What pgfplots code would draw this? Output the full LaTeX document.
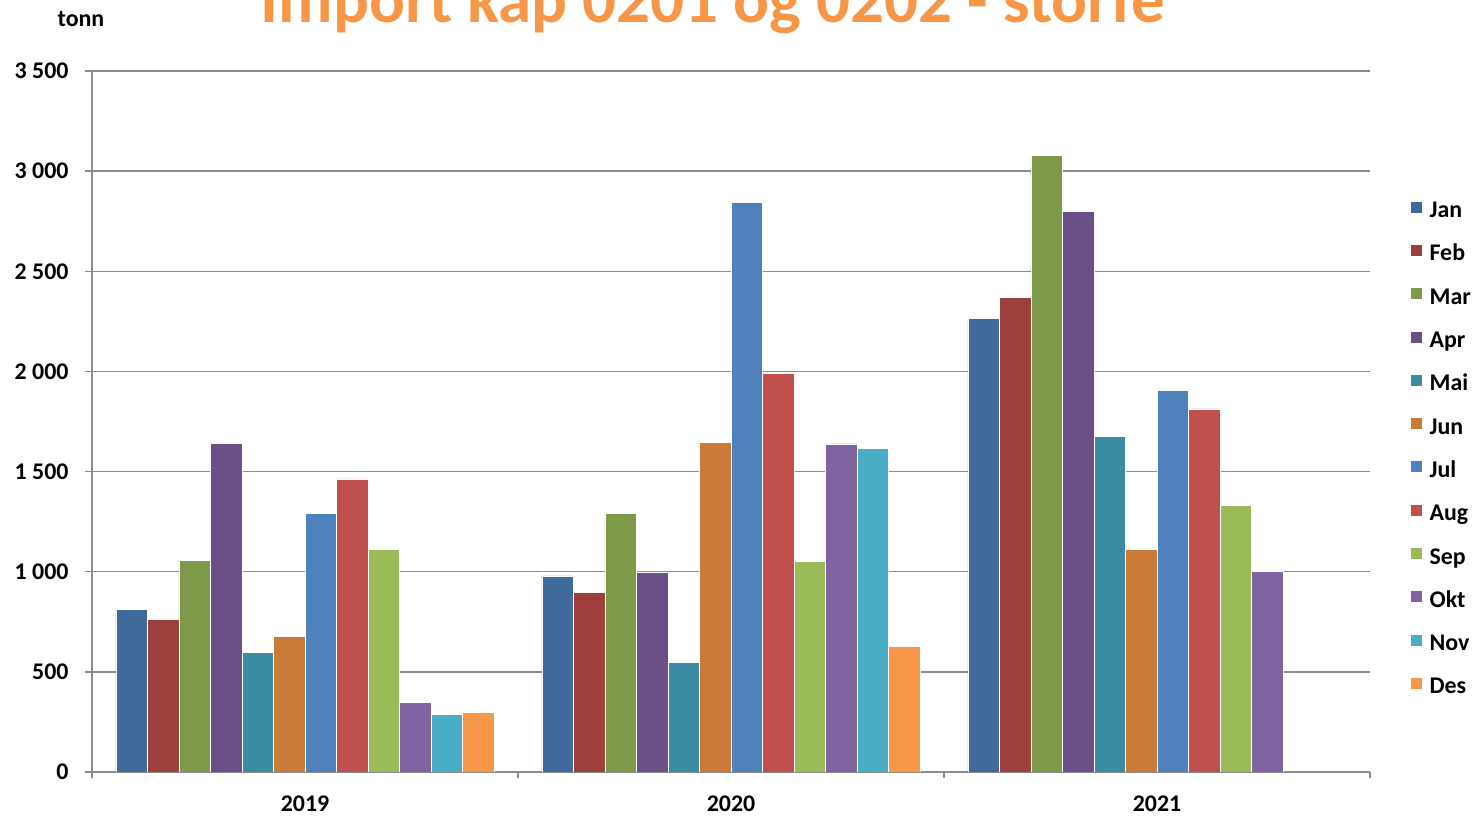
\documentclass[border=0pt]{standalone}
\usepackage{fontspec}
\setmainfont{Carlito}
\usepackage{pgfplots}
\pgfplotsset{compat=1.18}
\definecolor{cJan}{HTML}{3F6A9B}
\definecolor{cFeb}{HTML}{9E3F3D}
\definecolor{cMar}{HTML}{7F994A}
\definecolor{cApr}{HTML}{6A5087}
\definecolor{cMai}{HTML}{3B8BA3}
\definecolor{cJun}{HTML}{CB7B38}
\definecolor{cJul}{HTML}{4F81BD}
\definecolor{cAug}{HTML}{C0504D}
\definecolor{cSep}{HTML}{9BBB59}
\definecolor{cOkt}{HTML}{8064A2}
\definecolor{cNov}{HTML}{4BACC6}
\definecolor{cDes}{HTML}{F79646}
\definecolor{gridgray}{HTML}{8C8C8C}
\definecolor{titleorange}{HTML}{F79646}
\begin{document}
\begin{tikzpicture}
\begin{axis}[
  at={(0,0)}, anchor=south west,
  scale only axis, width=639bp, height=350.5bp,
  xmin=-0.5, xmax=2.5, ymin=0, ymax=3500,
  ytick={0,500,...,3500},
  ybar, bar width=0.074,
  axis x line*=bottom, axis y line*=left,
  ymajorgrids,
  grid style={color=gridgray, line width=0.75bp},
  axis line style={color=gridgray, line width=0.75bp},
  xtick={0,1,2}, xticklabels={2019,2020,2021},
  minor xtick={-0.5,0.5,1.5,2.5},
  xtick align=outside, ytick align=center,
  major x tick style={draw=none},
  major tick length=7bp, minor tick length=3bp,
  tick style={color=gridgray, line width=0.75bp},
  /pgf/number format/assume math mode=true,
  /pgf/number format/1000 sep={\ },
  yticklabel style={font=\bfseries\fontsize{12}{14}\selectfont, inner sep=0pt, xshift=-8bp},
  xticklabel style={font=\bfseries\fontsize{12}{14}\selectfont, inner sep=0pt, yshift=-4.5bp},
  every axis plot/.append style={draw=white, line width=0.3bp},
  legend image code/.code={\fill[#1,draw=none] (0bp,-0.5bp) rectangle (5.5bp,5bp); \path (9bp,0bp);},
  legend cell align=left,
  legend style={at={(1.032,0.817)}, anchor=north west, draw=none, fill=none,
    font=\bfseries\fontsize{12}{14}\selectfont, row sep=9.65bp, inner sep=0pt,
    nodes={inner sep=0pt, text height=9bp, text depth=3bp}},
]
\addplot[fill=cJan, bar shift=-0.407] coordinates {(0,812) (1,979) (2,2263)};
\addplot[fill=cFeb, bar shift=-0.333] coordinates {(0,762) (1,898) (2,2370)};
\addplot[fill=cMar, bar shift=-0.259] coordinates {(0,1055) (1,1293) (2,3079)};
\addplot[fill=cApr, bar shift=-0.185] coordinates {(0,1641) (1,996) (2,2800)};
\addplot[fill=cMai, bar shift=-0.111] coordinates {(0,598) (1,548) (2,1676)};
\addplot[fill=cJun, bar shift=-0.037] coordinates {(0,676) (1,1646) (2,1111)};
\addplot[fill=cJul, bar shift=0.037] coordinates {(0,1290) (1,2845) (2,1907)};
\addplot[fill=cAug, bar shift=0.111] coordinates {(0,1463) (1,1992) (2,1813)};
\addplot[fill=cSep, bar shift=0.185] coordinates {(0,1112) (1,1050) (2,1332)};
\addplot[fill=cOkt, bar shift=0.259] coordinates {(0,346) (1,1638) (2,1003)};
\addplot[fill=cNov, bar shift=0.333] coordinates {(0,288) (1,1617)};
\addplot[fill=cDes, bar shift=0.407] coordinates {(0,296) (1,626)};
\legend{Jan,Feb,Mar,Apr,Mai,Jun,Jul,Aug,Sep,Okt,Nov,Des}
\end{axis}
\node[font=\bfseries\fontsize{33.6}{36}\selectfont, text=titleorange, anchor=base] at (310.5bp,374.5bp) {Import kap 0201 og 0202 - storfe};
\node[font=\bfseries\fontsize{12}{14}\selectfont, anchor=base] at (-5.5bp,372.5bp) {tonn};
\pgfresetboundingbox
\path[use as bounding box] (-46bp,-22.5bp) rectangle (691bp,386bp);
\end{tikzpicture}
\end{document}
